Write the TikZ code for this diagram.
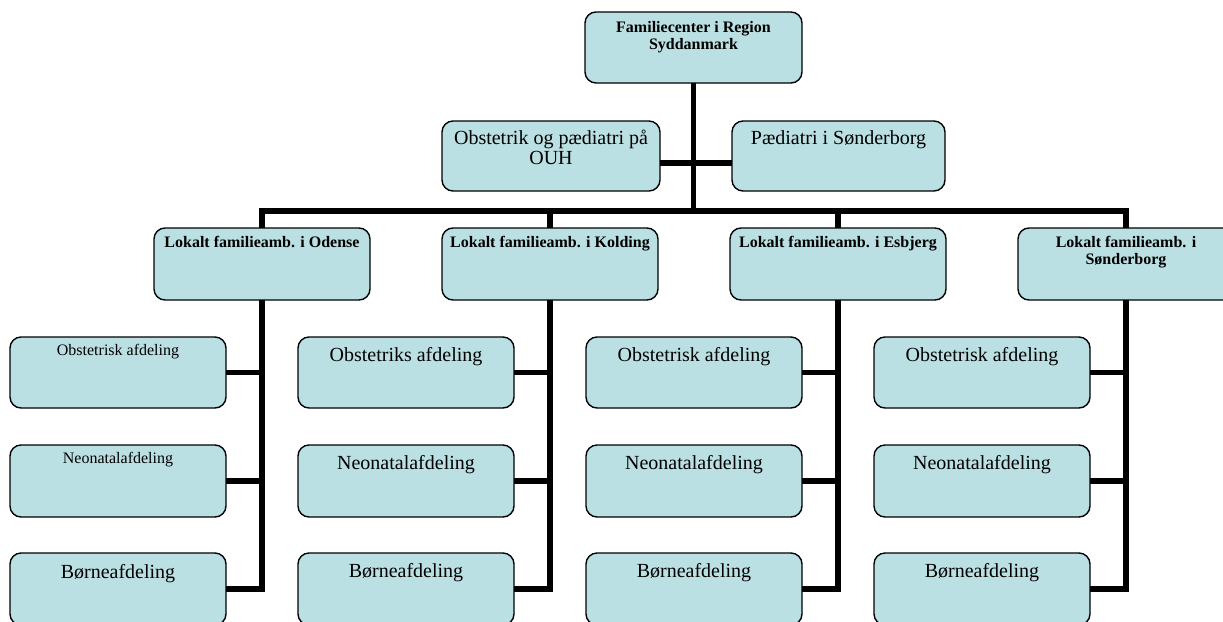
\documentclass[tikz,border=0pt]{standalone}
\usepackage{fontspec}
\setmainfont{Liberation Serif}
\definecolor{boxfill}{HTML}{BBE0E3}
\newcommand{\bxt}[4]{\parbox[t][#2][t]{#1}{\centering\rule{0pt}{#3}#4\par}}
\tikzset{
  boxbase/.style={draw=black, line width=1.4pt, fill=boxfill, rounded corners=11pt, inner sep=0pt, outer sep=0pt, anchor=north west},
  boldtxt/.style={boxbase, font=\fontsize{16}{17}\selectfont\bfseries},
  bigtxt/.style={boxbase, font=\fontsize{20}{20.5}\selectfont},
  smalltxt/.style={boxbase, font=\fontsize{16}{18}\selectfont},
  conn/.style={line width=5.5pt, draw=black}
}
\begin{document}
\begin{tikzpicture}[x=1pt,y=-1pt]
\useasboundingbox (0,0) rectangle (1223,621);
% top
\node[boldtxt] (top) at (585,12) {\bxt{217pt}{71pt}{20pt}{Familiecenter i Region\\Syddanmark}};
% level 2
\node[bigtxt] (ouh) at (442,121) {\bxt{218pt}{70pt}{23pt}{Obstetrik og pædiatri på\\OUH}};
\node[bigtxt] (sdb) at (732,121) {\bxt{213pt}{70pt}{23pt}{Pædiatri i Sønderborg}};
% level 3
\node[boldtxt] (ode) at (154,228) {\bxt{216pt}{72pt}{19pt}{Lokalt familieamb. i Odense}};
\node[boldtxt] (kol) at (442,228) {\bxt{216pt}{72pt}{19pt}{Lokalt familieamb. i Kolding}};
\node[boldtxt] (esb) at (730,228) {\bxt{216pt}{72pt}{19pt}{Lokalt familieamb. i Esbjerg}};
\node[boldtxt] (son) at (1018,228) {\bxt{216pt}{72pt}{19pt}{Lokalt familieamb. i\\Sønderborg}};
% leaves Odense
\node[smalltxt] (ode1) at (10,337) {\bxt{216pt}{71pt}{18pt}{Obstetrisk afdeling}};
\node[smalltxt] (ode2) at (10,445) {\bxt{216pt}{72pt}{18pt}{Neonatalafdeling}};
\node[bigtxt] (ode3) at (10,553) {\bxt{216pt}{72pt}{25pt}{Børneafdeling}};
% leaves Kolding
\node[bigtxt] (kol1) at (298,337) {\bxt{216pt}{71pt}{24pt}{Obstetriks afdeling}};
\node[bigtxt] (kol2) at (298,445) {\bxt{216pt}{72pt}{24pt}{Neonatalafdeling}};
\node[bigtxt] (kol3) at (298,553) {\bxt{216pt}{72pt}{24pt}{Børneafdeling}};
% leaves Esbjerg
\node[bigtxt] (esb1) at (586,337) {\bxt{216pt}{71pt}{24pt}{Obstetrisk afdeling}};
\node[bigtxt] (esb2) at (586,445) {\bxt{216pt}{72pt}{24pt}{Neonatalafdeling}};
\node[bigtxt] (esb3) at (586,553) {\bxt{216pt}{72pt}{24pt}{Børneafdeling}};
% leaves Sønderborg
\node[bigtxt] (son1) at (874,337) {\bxt{216pt}{71pt}{24pt}{Obstetrisk afdeling}};
\node[bigtxt] (son2) at (874,445) {\bxt{216pt}{72pt}{24pt}{Neonatalafdeling}};
\node[bigtxt] (son3) at (874,553) {\bxt{216pt}{72pt}{24pt}{Børneafdeling}};
% connectors
\coordinate (bus) at (top.south |- 0,211);
\draw[conn] (top.south) -- (bus);
\draw[conn] ([yshift=-7pt]ouh.east) -- ([yshift=-7pt]sdb.west);
\draw[conn] (ode.north) |- (bus);
\draw[conn] (son.north) |- (bus);
\draw[conn] (kol.north) -- (kol.north |- bus);
\draw[conn] (esb.north) -- (esb.north |- bus);
\foreach \p in {ode,kol,esb,son}{
  \draw[conn] (\p.south) |- (\p3.east);
  \draw[conn] (\p1.east) -- (\p1.east -| \p.south);
  \draw[conn] (\p2.east) -- (\p2.east -| \p.south);
}
\end{tikzpicture}
\end{document}
